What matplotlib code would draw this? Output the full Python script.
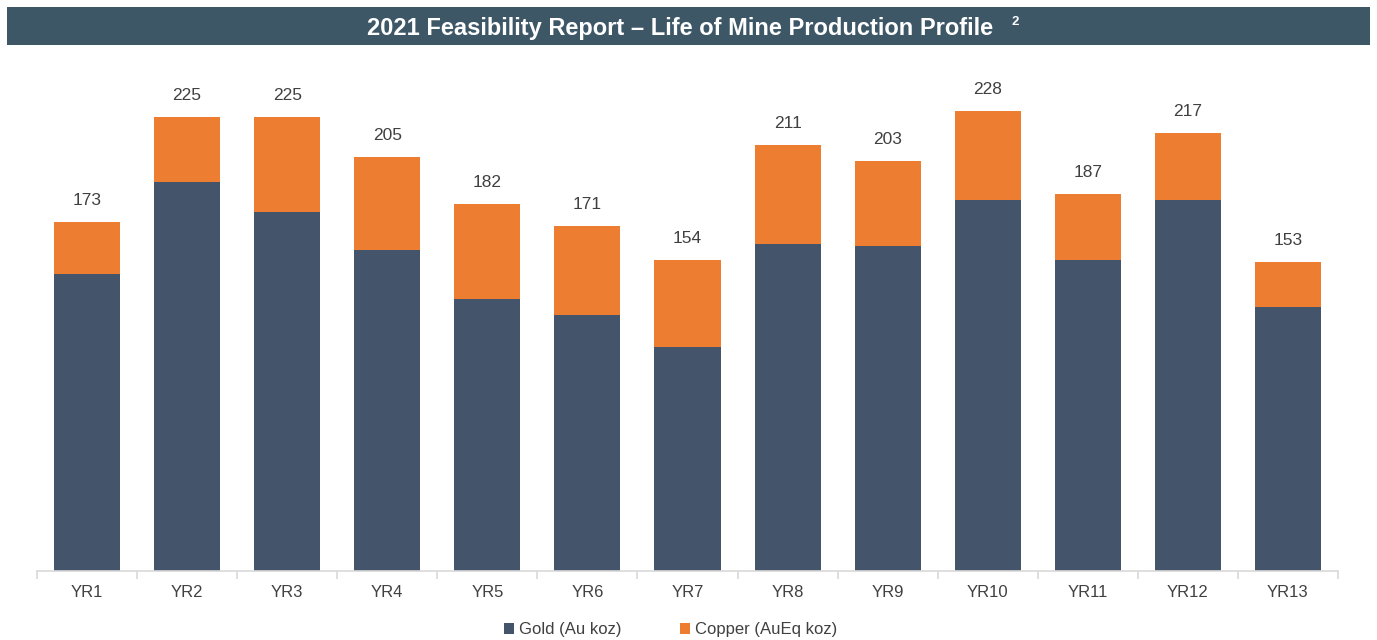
import matplotlib.pyplot as plt
import numpy as np

years = ["YR1", "YR2", "YR3", "YR4", "YR5", "YR6", "YR7",
         "YR8", "YR9", "YR10", "YR11", "YR12", "YR13"]
totals = [173, 225, 225, 205, 182, 171, 154, 211, 203, 228, 187, 217, 153]
gold = [147, 193, 178, 159, 135, 127, 111, 162, 161, 184, 154, 184, 131]
copper = [t - g for t, g in zip(totals, gold)]

GOLD_C = "#44546A"
COPPER_C = "#ED7D31"
TEXT_C = "#404040"

plt.rcParams['font.family'] = ['Liberation Sans', 'DejaVu Sans']

fig = plt.figure(figsize=(13.77, 6.4), dpi=100)

# title banner
fig.patches.append(plt.Rectangle((7 / 1377, 1 - 45 / 640), 1363 / 1377, 38 / 640,
                                 transform=fig.transFigure, facecolor="#3D5767",
                                 edgecolor="none", zorder=0))
fig.text(680 / 1377, 1 - 28 / 640, "2021 Feasibility Report \u2013 Life of Mine Production Profile",
         ha="center", va="center", color="white", fontsize=17, fontweight="bold")
fig.text(1015 / 1377, 1 - 22 / 640, "2", ha="center", va="center",
         color="white", fontsize=9.5, fontweight="bold")

ax = fig.add_axes([37 / 1377, 69 / 640, 1301 / 1377, 491 / 640])
x = np.arange(len(years))
ax.bar(x, gold, width=0.66, color=GOLD_C, label="Gold (Au koz)", zorder=2)
ax.bar(x, copper, width=0.66, bottom=gold, color=COPPER_C,
       label="Copper (AuEq koz)", zorder=2)

for xi, t in zip(x, totals):
    ax.annotate(str(t), (xi, t), xytext=(0, 10), textcoords="offset points",
                ha="center", va="bottom", fontsize=12.5, color=TEXT_C)

ax.set_xlim(-0.5, len(years) - 0.5)
ax.set_ylim(0, 491 / 2.018)
ax.set_yticks([])
for s in ["top", "right", "left"]:
    ax.spines[s].set_visible(False)
ax.spines["bottom"].set_color("#D9D9D9")
ax.spines["bottom"].set_linewidth(1.2)

ax.set_xticks(x)
ax.set_xticklabels(years, fontsize=12, color=TEXT_C)
ax.tick_params(axis="x", length=0, pad=10)
ax.set_xticks(np.arange(-0.5, len(years), 1), minor=True)
ax.tick_params(axis="x", which="minor", length=6, color="#D9D9D9", width=1.2)

ax.legend(loc="center", bbox_to_anchor=(0.487, -0.12), ncol=2, frameon=False,
          fontsize=12, handlelength=0.6, handleheight=0.6, handletextpad=0.3,
          columnspacing=3.5, labelcolor=TEXT_C, borderpad=0.2)

fig.savefig("out.png", dpi=100)
